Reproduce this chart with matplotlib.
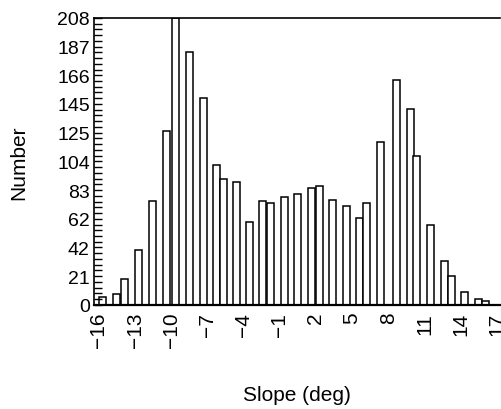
import numpy as np
import matplotlib.pyplot as plt

plt.rcParams['font.family'] = ['Liberation Sans', 'DejaVu Sans']

# slope bins (deg) and counts
slope = [-15.67, -14.51, -13.89, -12.72, -11.56, -10.36, -9.66, -8.50, -7.33,
         -6.26, -5.68, -4.60, -3.52, -2.40, -1.78, -0.62, 0.50, 1.66, 2.28,
         3.36, 4.52, 5.60, 6.18, 7.38, 8.67, 9.83, 10.37, 11.49, 12.69, 13.23,
         14.35, 15.51, 16.05]
count = [6, 8, 19, 40, 75, 126, 208, 183, 150,
         101, 91, 89, 60, 75, 74, 78, 80, 85, 86,
         76, 72, 63, 74, 118, 163, 142, 108, 58, 32, 21,
         9, 4, 3]

xticks = [-16, -13, -10, -7, -4, -1, 2, 5, 8, 11, 14, 17]
yticklabels = ['0', '21', '42', '62', '83', '104', '125', '145', '166', '187', '208']

fig = plt.figure(figsize=(5.01, 4.10), dpi=100)
ax = fig.add_axes([0.1876, 0.254, 0.810, 0.700])

ax.bar(slope, count, width=0.58, color='white', edgecolor='black', linewidth=1.1)

ax.set_xlim(-16.41, 17.25)
ax.set_ylim(0, 208)

ax.set_xticks(xticks)
ax.set_xticklabels([str(t).replace('-', '\u2212') for t in xticks], rotation=90, fontsize=15)
ax.tick_params(axis='x', length=0, pad=5)

ax.set_yticks(np.linspace(0, 208, 11))
ax.set_yticklabels(yticklabels, fontsize=14)
ax.set_yticks(np.linspace(0, 208, 51), minor=True)
ax.tick_params(axis='y', which='both', direction='in', length=6, width=1.0, pad=3)

ax.spines['right'].set_visible(False)
ax.spines['bottom'].set_linewidth(1.6)
ax.spines['top'].set_linewidth(1.2)
ax.spines['left'].set_linewidth(1.2)

ax.set_xlabel('Slope (deg)', fontsize=15, labelpad=27)
ax.set_ylabel('Number', fontsize=15, labelpad=21)

fig.savefig('out.png', dpi=100)
